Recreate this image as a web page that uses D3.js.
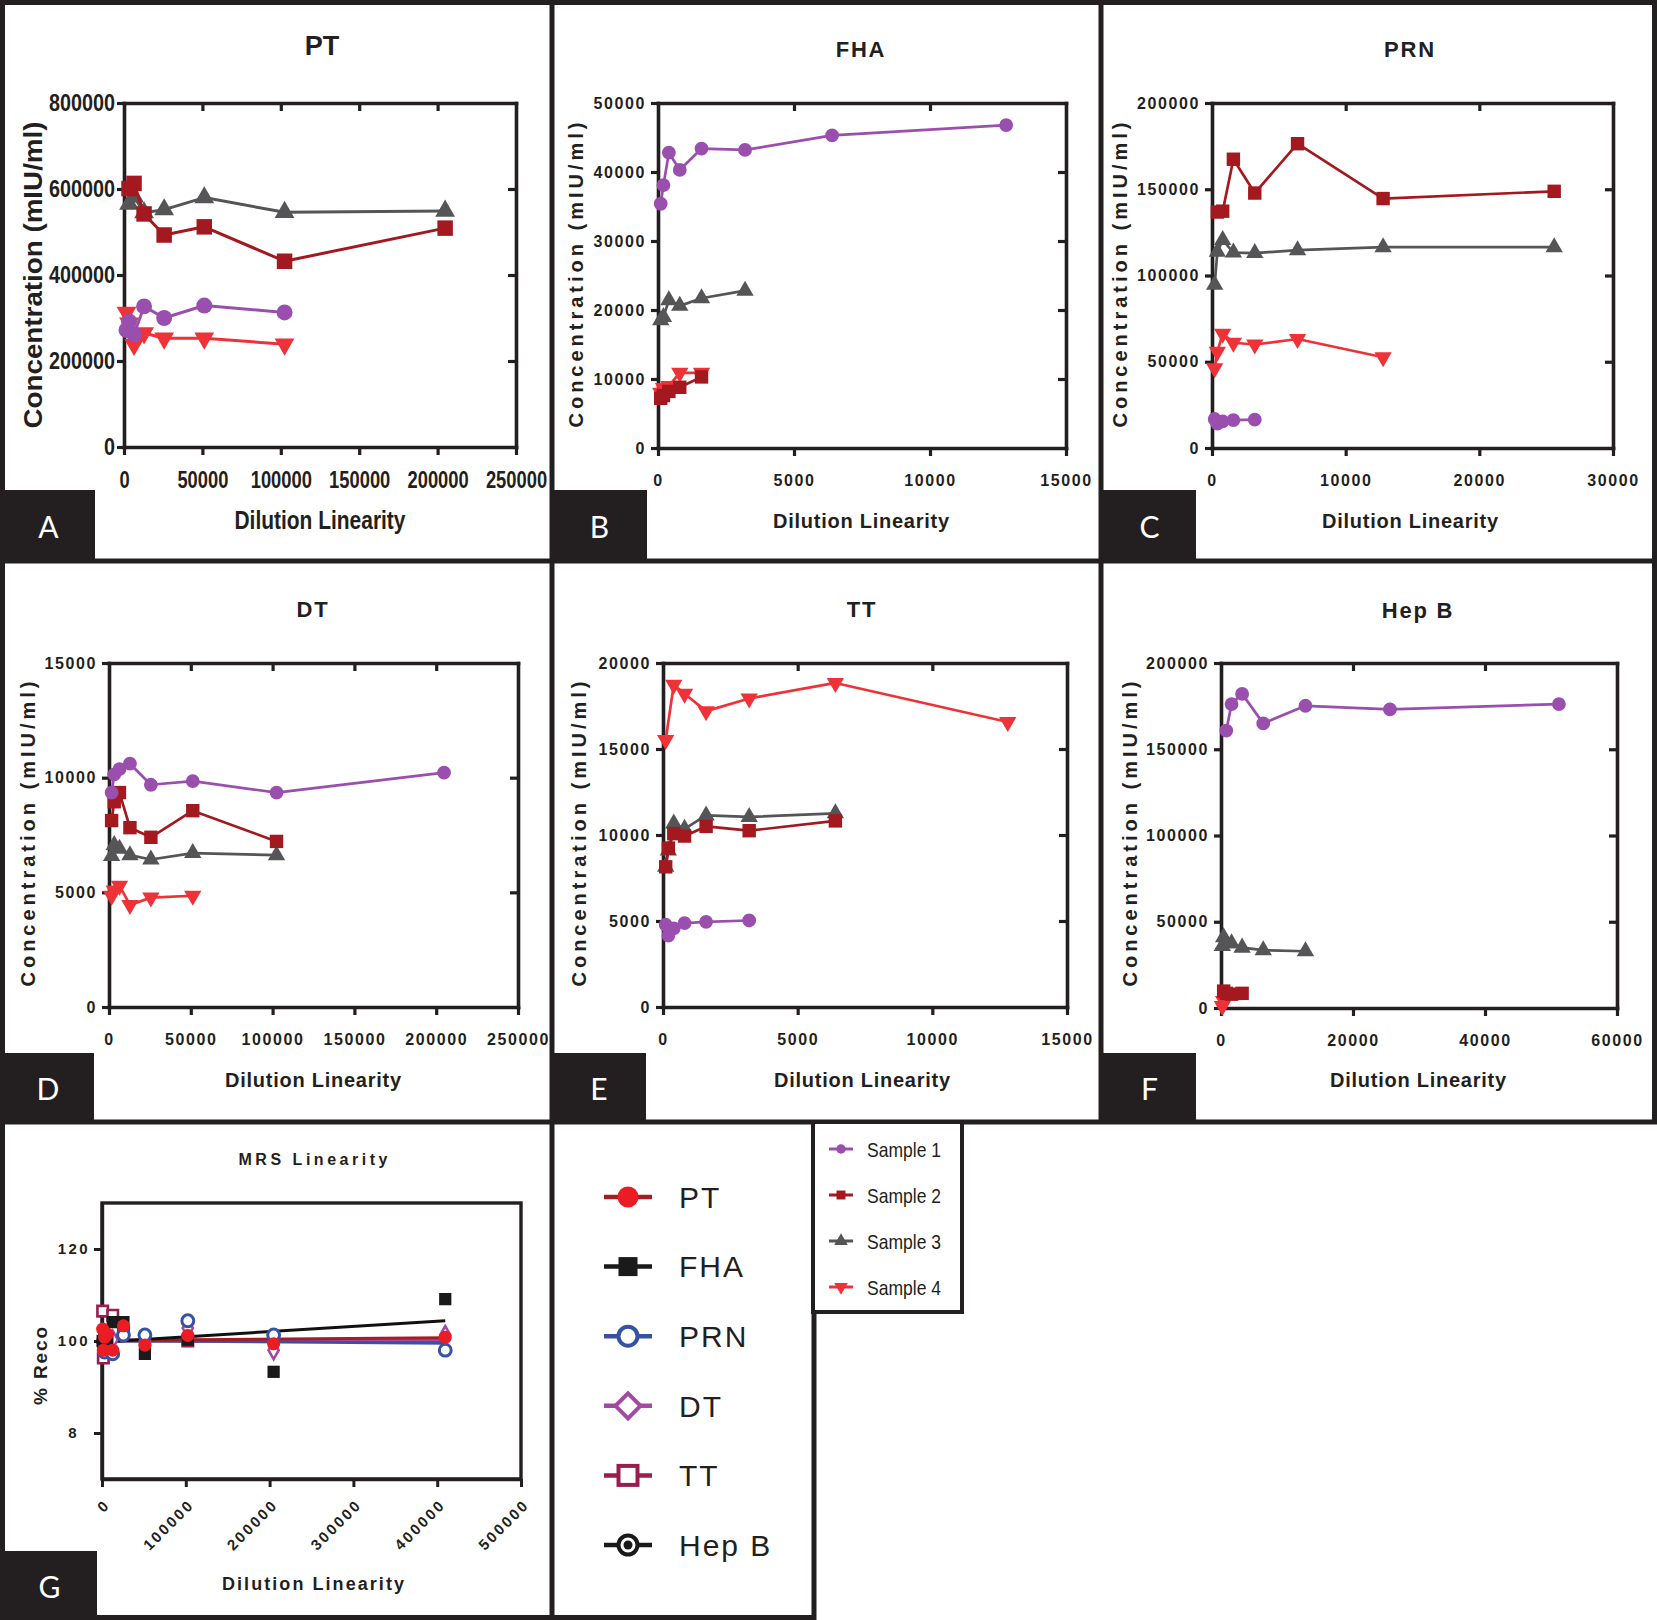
<!DOCTYPE html>
<html><head><meta charset="utf-8">
<script src="https://cdn.jsdelivr.net/npm/d3@7"></script>
<style>body{margin:0;background:#fff}svg{display:block}</style>
</head><body>
<svg id="c" width="1657" height="1620"></svg>
<script>
// ---------------- DATA ----------------
const samples = ["Sample 1", "Sample 2", "Sample 3", "Sample 4"];
const antigens = ["PT", "FHA", "PRN", "DT", "TT", "Hep B"];
const panelLetters = ["A", "B", "C", "D", "E", "F", "G"];
const xLabelText = "Dilution Linearity";
const yLabelText = "Concentration (mIU/ml)";

// Panel A – PT
const PT_S1 = [[1600,272000],[3200,292000],[6400,262000],[12800,327000],[25600,300000],[51200,329000],[102400,313000]];
const PT_S2 = [[3200,601000],[6400,613000],[12800,542000],[25600,493000],[51200,512000],[102400,432000],[204800,509000]];
const PT_S3 = [[3200,565000],[6400,582000],[12800,545000],[25600,552000],[51200,580000],[102400,546000],[204800,549000]];
const PT_S4 = [[1600,313000],[3200,288000],[6400,238000],[12800,265000],[25600,253000],[51200,253000],[102400,239000]];
const PT_XTICKS = [0,50000,100000,150000,200000,250000];
const PT_YTICKS = [0,200000,400000,600000,800000];

// Panel B – FHA
const FHA_S1 = [[100,35400],[200,38100],[400,42800],[800,40300],[1600,43400],[3200,43200],[6400,45300],[12800,46800]];
const FHA_S2 = [[100,7200],[200,7600],[400,8200],[800,8800],[1600,10300]];
const FHA_S3 = [[100,18500],[200,19000],[400,21400],[800,20600],[1600,21700],[3200,22800]];
const FHA_S4 = [[100,8000],[200,8700],[400,9000],[800,10900],[1600,10900]];
const FHA_XTICKS = [0,5000,10000,15000];
const FHA_YTICKS = [0,10000,20000,30000,40000,50000];

// Panel C – PRN
const PRN_S1 = [[200,16800],[400,14100],[800,15400],[1600,16200],[3200,16400]];
const PRN_S2 = [[400,136800],[800,137300],[1600,167400],[3200,147800],[6400,176400],[12800,144600],[25600,148800]];
const PRN_S3 = [[200,94700],[400,113700],[800,120600],[1600,113300],[3200,113000],[6400,114700],[12800,116400],[25600,116400]];
const PRN_S4 = [[200,46300],[400,55800],[800,66300],[1600,61000],[3200,60000],[6400,63200],[12800,52600]];
const PRN_XTICKS = [0,10000,20000,30000];
const PRN_YTICKS = [0,50000,100000,150000,200000];

// Panel D – DT
const DT_S1 = [[1600,9350],[3200,10140],[6400,10370],[12800,10610],[25600,9690],[51200,9850],[102400,9350],[204800,10220]];
const DT_S2 = [[1600,8130],[3200,8950],[6400,9350],[12800,7820],[25600,7400],[51200,8560],[102400,7220]];
const DT_S3 = [[1600,6580],[3200,7060],[6400,6900],[12800,6620],[25600,6430],[51200,6710],[102400,6620]];
const DT_S4 = [[1600,4850],[3200,5080],[6400,5290],[12800,4450],[25600,4770],[51200,4850]];
const DT_XTICKS = [0,50000,100000,150000,200000,250000];
const DT_YTICKS = [0,5000,10000,15000];

// Panel E – TT
const TT_S1 = [[100,4780],[200,4150],[400,4570],[800,4880],[1600,4950],[3200,5030]];
const TT_S2 = [[100,8150],[200,9240],[400,10080],[800,9940],[1600,10500],[3200,10250],[6400,10820]];
const TT_S3 = [[100,8150],[200,9100],[400,10670],[800,10360],[1600,11140],[3200,11050],[6400,11260]];
const TT_S4 = [[100,15520],[400,18740],[800,18210],[1600,17200],[3200,17940],[6400,18840],[12800,16570]];
const TT_XTICKS = [0,5000,10000,15000];
const TT_YTICKS = [0,5000,10000,15000,20000];

// Panel F – Hep B
const HEPB_S1 = [[800,160800],[1600,176200],[3200,182100],[6400,165000],[12800,175200],[25600,173100],[51200,176200]];
const HEPB_S2 = [[400,9800],[800,8500],[1600,8000],[3200,8500]];
const HEPB_S3 = [[200,36000],[400,41000],[800,37500],[1600,37500],[3200,35000],[6400,33500],[12800,32900]];
const HEPB_S4 = [[200,1200],[400,4000]];
const HEPB_XTICKS = [0,20000,40000,60000];
const HEPB_YTICKS = [0,50000,100000,150000,200000];

// Panel G – MRS Linearity (% recovery)
const G_PT = [[800,102.6],[1600,98],[3200,100.8],[6400,101.5],[12800,98],[25600,103.3],[51200,99.1],[102400,101.2],[204800,99.4],[409600,100.8]];
const G_FHA = [[800,100],[1600,99],[3200,101],[6400,100.5],[12800,104.1],[25600,104.1],[51200,97.2],[102400,100.3],[204800,93.3],[409600,109.1]];
const G_PRN = [[3200,97.6],[12800,97.2],[25600,101.3],[51200,101.3],[102400,104.4],[204800,101.3],[409600,98]];
const G_DT = [[1600,100],[6400,99],[12800,100.3],[51200,100],[102400,102.8],[204800,98],[409600,101.3]];
const G_TT = [[800,106.5],[1600,96.3],[3200,100],[12800,105.6],[25600,102],[102400,100]];
const G_HEPB = [[800,100],[1600,99],[3200,101]];
const G_FIT_X = [800, 409600];
const G_FIT_PT = [100.1, 100.7];
const G_FIT_FHA = [99.8, 104.4];
const G_FIT_PRN = [100.1, 99.5];
const G_FIT_DT = [100.0, 100.2];
const G_FIT_TT = [100.2, 100.0];
const G_FIT_HEPB = [100.0, 100.1];
const G_XTICKS = [0,100000,200000,300000,400000,500000];
const G_YTICKS = [80,100,120];
const G_YTICK_LABELS = ["8","100","120"];

// ---------------- STYLE ----------------
const INK = "#231f20";
const SAMPLE_COLORS = ["#9a4fae", "#a3191f", "#555557", "#ee3238"];
const SAMPLE_SYMBOLS = ["circle", "square", "up", "down"];
const F = "'Liberation Sans', Arial, Helvetica, sans-serif";
const FN = "'Liberation Sans Narrow', 'Liberation Sans', Arial, sans-serif";

const svg = d3.select("#c");
svg.append("rect").attr("width",1657).attr("height",1620).attr("fill","#fff");

function symPath(kind, size) {
  const t = kind === "circle" ? d3.symbolCircle : kind === "square" ? d3.symbolSquare : d3.symbolTriangle;
  return d3.symbol().type(t).size(size)();
}

// ---------------- PANELS A–F ----------------
const panels = [
  {title:"PT",  s:[PT_S1,PT_S2,PT_S3,PT_S4], xd:[0,250000], xt:PT_XTICKS, yd:[0,800000], yt:PT_YTICKS,
   l:124, r:516, t:103, b:447, tx:322, ty:45, xly:520, ylx:33, yly:275, big:true},
  {title:"FHA", s:[FHA_S1,FHA_S2,FHA_S3,FHA_S4], xd:[0,15000], xt:FHA_XTICKS, yd:[0,50000], yt:FHA_YTICKS,
   l:658, r:1066, t:103, b:448, tx:861, ty:49, xly:521, ylx:576, yly:275},
  {title:"PRN", s:[PRN_S1,PRN_S2,PRN_S3,PRN_S4], xd:[0,30000], xt:PRN_XTICKS, yd:[0,200000], yt:PRN_YTICKS,
   l:1212, r:1613, t:103, b:448, tx:1410, ty:49, xly:521, ylx:1120, yly:275},
  {title:"DT",  s:[DT_S1,DT_S2,DT_S3,DT_S4], xd:[0,250000], xt:DT_XTICKS, yd:[0,15000], yt:DT_YTICKS,
   l:109, r:518, t:663, b:1007, tx:313, ty:609, xly:1080, ylx:28, yly:834},
  {title:"TT",  s:[TT_S1,TT_S2,TT_S3,TT_S4], xd:[0,15000], xt:TT_XTICKS, yd:[0,20000], yt:TT_YTICKS,
   l:663, r:1067, t:663, b:1007, tx:862, ty:609, xly:1080, ylx:579, yly:834},
  {title:"Hep B", s:[HEPB_S1,HEPB_S2,HEPB_S3,HEPB_S4], xd:[0,60000], xt:HEPB_XTICKS, yd:[0,200000], yt:HEPB_YTICKS,
   l:1221, r:1617, t:663, b:1008, tx:1418, ty:610, xly:1080, ylx:1130, yly:834}
];

panels.forEach(p => {
  const x = d3.scaleLinear().domain(p.xd).range([p.l, p.r]);
  const y = d3.scaleLinear().domain(p.yd).range([p.b, p.t]);
  const g = svg.append("g");
  const big = !!p.big;
  const tickFont = big ? FN : F;
  const tickSize = big ? 23 : 16;

  const ax = g.append("g").attr("transform", `translate(${p.l},0)`)
    .call(d3.axisLeft(y).tickValues(p.yt).tickSize(7).tickSizeOuter(0).tickPadding(big ? 2 : 5).tickFormat(d3.format("d")));
  const bx = g.append("g").attr("transform", `translate(0,${p.b})`)
    .call(d3.axisBottom(x).tickValues(p.xt).tickSize(8).tickSizeOuter(0).tickPadding(big ? 17 : 19).tickFormat(d3.format("d")));
  const tx = g.append("g").attr("transform", `translate(0,${p.t})`)
    .call(d3.axisTop(x).tickValues(p.xt.slice(1, -1)).tickSize(-8).tickSizeOuter(0).tickFormat(""));
  const rx = g.append("g").attr("transform", `translate(${p.r},0)`)
    .call(d3.axisRight(y).tickValues(p.yt.slice(1, -1)).tickSize(-8).tickSizeOuter(0).tickFormat(""));
  [ax, bx, tx, rx].forEach(a => {
    a.select(".domain").attr("stroke", INK).attr("stroke-width", 3.6).attr("stroke-linecap", "square");
    a.selectAll(".tick line").attr("stroke", INK).attr("stroke-width", 3.2);
    a.selectAll("text").attr("fill", INK).attr("font-family", tickFont)
      .attr("font-size", tickSize).attr("font-weight", "bold")
      .attr("letter-spacing", big ? 0 : 1.6);
  });
  if (big) {
    ax.selectAll("text").attr("textLength", d => String(d).length * 11).attr("lengthAdjust", "spacingAndGlyphs");
    bx.selectAll("text").attr("textLength", d => String(d).length * 10.2).attr("lengthAdjust", "spacingAndGlyphs");
  }

  const line = d3.line().x(d => x(d[0])).y(d => y(d[1]));
  [3, 2, 1, 0].forEach(i => {
    const data = p.s[i];
    const col = SAMPLE_COLORS[i];
    g.append("path").datum(data).attr("d", line).attr("fill", "none")
      .attr("stroke", col).attr("stroke-width", big ? 3 : 2.7).attr("stroke-linejoin", "round");
    const kind = SAMPLE_SYMBOLS[i];
    const size = big ? (kind === "circle" ? 200 : kind === "square" ? 240 : 170)
                     : (kind === "circle" ? 150 : kind === "square" ? 180 : 130);
    g.selectAll(null).data(data).enter().append("path")
      .attr("d", symPath(kind, size))
      .attr("transform", d => `translate(${x(d[0])},${y(d[1])})` + (kind === "down" ? " rotate(180)" : ""))
      .attr("fill", col);
  });

  if (big) {
    g.append("text").attr("x", p.tx).attr("y", p.ty).attr("dy", "0.36em").attr("text-anchor", "middle")
      .attr("font-family", FN).attr("font-weight", "bold").attr("font-size", 27).attr("fill", INK).text(p.title);
    g.append("text").attr("x", 320).attr("y", p.xly).attr("dy", "0.36em").attr("text-anchor", "middle")
      .attr("font-family", FN).attr("font-weight", "bold").attr("font-size", 25).attr("fill", INK)
      .attr("textLength", 171).attr("lengthAdjust", "spacingAndGlyphs").text(xLabelText);
    g.append("text").attr("transform", `translate(${p.ylx},${p.yly}) rotate(-90)`).attr("dy", "0.36em")
      .attr("text-anchor", "middle").attr("font-family", FN).attr("font-weight", "bold").attr("font-size", 26)
      .attr("fill", INK).attr("textLength", 307).attr("lengthAdjust", "spacingAndGlyphs").text(yLabelText);
  } else {
    g.append("text").attr("x", p.tx).attr("y", p.ty).attr("dy", "0.36em").attr("text-anchor", "middle")
      .attr("font-family", F).attr("font-weight", "bold").attr("font-size", 22).attr("letter-spacing", 1.8)
      .attr("fill", INK).text(p.title);
    g.append("text").attr("x", p.tx).attr("y", p.xly).attr("dy", "0.36em").attr("text-anchor", "middle")
      .attr("font-family", F).attr("font-weight", "bold").attr("font-size", 20).attr("fill", INK)
      .attr("textLength", 176).attr("lengthAdjust", "spacing").text(xLabelText);
    g.append("text").attr("transform", `translate(${p.ylx},${p.yly}) rotate(-90)`).attr("dy", "0.36em")
      .attr("text-anchor", "middle").attr("font-family", F).attr("font-weight", "bold").attr("font-size", 20)
      .attr("fill", INK).attr("textLength", 305).attr("lengthAdjust", "spacing").text(yLabelText);
  }
});

// ---------------- PANEL G ----------------
(function () {
  const L = 102, R = 521, T = 1203, B = 1479;
  const x = d3.scaleLinear().domain([0, 500000]).range([L, R]);
  const y = d3.scaleLinear().domain([70, 130]).range([B, T]);
  const g = svg.append("g");
  g.append("rect").attr("x", L).attr("y", T).attr("width", R - L).attr("height", B - T)
    .attr("fill", "none").attr("stroke", INK).attr("stroke-width", 3.4);
  const ax = g.append("g").attr("transform", `translate(${L},0)`)
    .call(d3.axisLeft(y).tickValues(G_YTICKS).tickSize(8).tickSizeOuter(0).tickPadding(4)
      .tickFormat((d, i) => G_YTICK_LABELS[i]));
  const bx = g.append("g").attr("transform", `translate(0,${B})`)
    .call(d3.axisBottom(x).tickValues(G_XTICKS).tickSize(8).tickSizeOuter(0).tickFormat(d3.format("d")));
  [ax, bx].forEach(a => {
    a.select(".domain").attr("stroke", INK).attr("stroke-width", 3.4);
    a.selectAll(".tick line").attr("stroke", INK).attr("stroke-width", 3);
    a.selectAll("text").attr("fill", INK).attr("font-family", F).attr("font-size", 15)
      .attr("font-weight", "bold").attr("letter-spacing", 2.4);
  });
  ax.selectAll("text").filter(d => d === 80).attr("dx", -11);
  bx.selectAll("text").attr("text-anchor", "end").attr("x", 0).attr("y", 0).attr("dy", "0.35em")
    .attr("transform", "translate(5,23) rotate(-45)");

  const line = d3.line().x(d => x(d[0])).y(d => y(d[1]));
  const fits = [
    [G_FIT_HEPB, "#231f20"], [G_FIT_TT, "#9b1d50"], [G_FIT_DT, "#a349a4"],
    [G_FIT_PRN, "#3752a5"], [G_FIT_PT, "#a61c23"], [G_FIT_FHA, "#111111"]
  ];
  fits.forEach(([v, c]) => {
    g.append("path").datum(G_FIT_X.map((xx, i) => [xx, v[i]])).attr("d", line)
      .attr("stroke", c).attr("stroke-width", 3).attr("fill", "none");
  });
  const pts = (data, draw) => g.selectAll(null).data(data).enter().append("path")
    .attr("transform", d => `translate(${x(d[0])},${y(d[1])})`).call(draw);
  pts(G_HEPB, s => s.attr("d", d3.symbol().type(d3.symbolCircle).size(90)()).attr("fill", "#fff")
    .attr("stroke", "#231f20").attr("stroke-width", 2.5));
  pts(G_TT, s => s.attr("d", d3.symbol().type(d3.symbolSquare).size(110)()).attr("fill", "#fff")
    .attr("stroke", "#9b1d50").attr("stroke-width", 2.6));
  pts(G_DT, s => s.attr("d", d3.symbol().type(d3.symbolDiamond).size(90)()).attr("fill", "#fff")
    .attr("stroke", "#a349a4").attr("stroke-width", 2.6));
  pts(G_FHA, s => s.attr("d", d3.symbol().type(d3.symbolSquare).size(150)()).attr("fill", "#1a1a1a"));
  pts(G_PRN, s => s.attr("d", d3.symbol().type(d3.symbolCircle).size(110)()).attr("fill", "#fff")
    .attr("stroke", "#3752a5").attr("stroke-width", 3));
  pts(G_PT, s => s.attr("d", d3.symbol().type(d3.symbolCircle).size(135)()).attr("fill", "#ec1c24"));

  g.append("text").attr("x", 313).attr("y", 1159).attr("dy", "0.36em").attr("text-anchor", "middle")
    .attr("font-family", F).attr("font-weight", "bold").attr("font-size", 16).attr("fill", INK)
    .attr("textLength", 149).attr("lengthAdjust", "spacing").text("MRS Linearity");
  g.append("text").attr("x", 313).attr("y", 1584).attr("dy", "0.36em").attr("text-anchor", "middle")
    .attr("font-family", F).attr("font-weight", "bold").attr("font-size", 18).attr("fill", INK)
    .attr("textLength", 182).attr("lengthAdjust", "spacing").text(xLabelText);
  g.append("text").attr("transform", "translate(40,1366) rotate(-90)").attr("dy", "0.36em")
    .attr("text-anchor", "middle").attr("font-family", F).attr("font-weight", "bold").attr("font-size", 19)
    .attr("fill", INK).attr("textLength", 78).attr("lengthAdjust", "spacing").text("% Reco");
})();

// ---------------- BORDERS ----------------
const borders = svg.append("g").attr("stroke", INK).attr("stroke-width", 5).attr("fill", "none");
[[2.5,0,2.5,1620],[552,0,552,1620],[1101,0,1101,1122],[1654.5,0,1654.5,1122],
 [0,2.5,1657,2.5],[0,561,1657,561],[0,1122,1657,1122],[0,1617.5,815,1617.5],[814,1122,814,1620]]
  .forEach(([x1,y1,x2,y2]) => borders.append("line").attr("x1",x1).attr("y1",y1).attr("x2",x2).attr("y2",y2));
svg.append("rect").attr("x", 813).attr("y", 1122).attr("width", 149).attr("height", 190)
  .attr("fill", "#fff").attr("stroke", INK).attr("stroke-width", 4);

const boxes = [[0,490,95,71],[550,490,97,71],[1101,490,95,71],[0,1053,94,69],[550,1053,96,69],[1101,1053,95,69],[0,1551,97,69]];
boxes.forEach((b, i) => {
  svg.append("rect").attr("x", b[0]).attr("y", b[1]).attr("width", b[2]).attr("height", b[3]).attr("fill", INK);
  svg.append("text").attr("x", b[0] + b[2] / 2 + 1).attr("y", b[1] + b[3] / 2 + 2).attr("dy", "0.36em")
    .attr("text-anchor", "middle").attr("font-family", "Lato, 'Open Sans', sans-serif").attr("font-size", 30)
    .attr("fill", "#fff").text(panelLetters[i]);
});

// ---------------- LEGENDS ----------------
const legY = d3.scalePoint().domain(antigens).range([1197, 1545]);
const legStyles = {
  "PT":   {line:"#a61c23", draw: g => g.append("circle").attr("r", 10.5).attr("fill", "#ec1c24")},
  "FHA":  {line:"#1a1a1a", draw: g => g.append("rect").attr("x", -9.5).attr("y", -9.5).attr("width", 19).attr("height", 19).attr("fill", "#1a1a1a")},
  "PRN":  {line:"#3752a5", draw: g => g.append("circle").attr("r", 9.5).attr("fill", "#fff").attr("stroke", "#3752a5").attr("stroke-width", 4)},
  "DT":   {line:"#a349a4", draw: g => g.append("path").attr("d", "M0,-12.5L12.5,0L0,12.5L-12.5,0Z").attr("fill", "#fff").attr("stroke", "#a349a4").attr("stroke-width", 4)},
  "TT":   {line:"#9b1d50", draw: g => g.append("rect").attr("x", -9.5).attr("y", -9.5).attr("width", 19).attr("height", 19).attr("fill", "#fff").attr("stroke", "#9b1d50").attr("stroke-width", 4)},
  "Hep B":{line:"#1a1a1a", draw: g => { g.append("circle").attr("r", 9.5).attr("fill", "#fff").attr("stroke", "#1a1a1a").attr("stroke-width", 4);
                                        g.append("circle").attr("r", 4.5).attr("fill", "#1a1a1a"); }}
};
antigens.forEach(a => {
  const yy = legY(a);
  const st = legStyles[a];
  svg.append("line").attr("x1", 604).attr("x2", 652).attr("y1", yy).attr("y2", yy)
    .attr("stroke", st.line).attr("stroke-width", 4.5);
  const mg = svg.append("g").attr("transform", `translate(628,${yy})`);
  st.draw(mg);
  svg.append("text").attr("x", 679).attr("y", yy).attr("dy", "0.36em").attr("font-family", F)
    .attr("font-size", 30).attr("letter-spacing", 2).attr("fill", INK).text(a);
});

const sY = d3.scalePoint().domain(samples).range([1149, 1287]);
samples.forEach((s, i) => {
  const yy = sY(s);
  svg.append("line").attr("x1", 829).attr("x2", 853).attr("y1", yy).attr("y2", yy)
    .attr("stroke", SAMPLE_COLORS[i]).attr("stroke-width", 3);
  const kind = SAMPLE_SYMBOLS[i];
  svg.append("path").attr("d", symPath(kind, kind === "circle" ? 70 : 80))
    .attr("transform", `translate(841,${yy})` + (kind === "down" ? " rotate(180)" : ""))
    .attr("fill", SAMPLE_COLORS[i]);
  svg.append("text").attr("x", 867).attr("y", yy).attr("dy", "0.36em").attr("font-family", F)
    .attr("font-size", 21).attr("textLength", 74).attr("lengthAdjust", "spacingAndGlyphs")
    .attr("fill", INK).text(s);
});
</script>
</body></html>
